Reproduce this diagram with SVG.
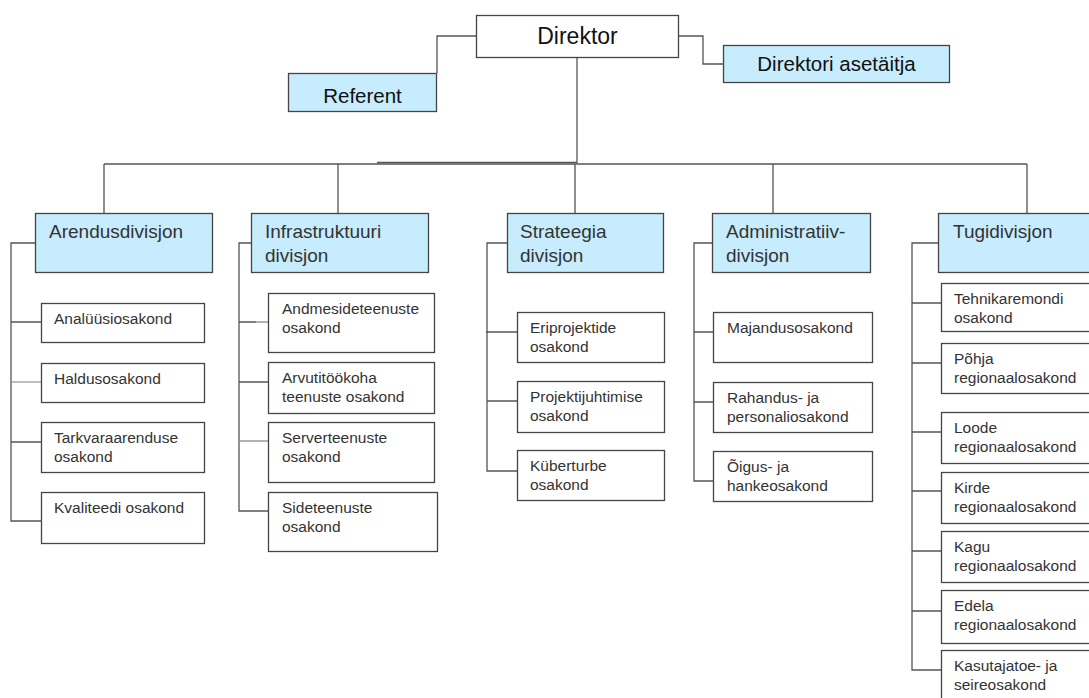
<svg xmlns="http://www.w3.org/2000/svg" width="1089" height="698" viewBox="0 0 1089 698">
<style>
.box{fill:#ffffff;stroke:#454545;stroke-width:1.3}
.blue{fill:#c6ecfd;stroke:#454545;stroke-width:1.3}
.ln{fill:none;stroke:#555555;stroke-width:1.3}
.lt{fill:none;stroke:#999999;stroke-width:1.3}
.t{font-family:"Liberation Sans",Arial,sans-serif;font-size:15.5px;fill:#333333}
.d{font-family:"Liberation Sans",Arial,sans-serif;font-size:19px;fill:#333333}
.h{font-family:"Liberation Sans",Arial,sans-serif;font-size:20.5px;fill:#111111;text-anchor:middle}
</style>
<rect width="1089" height="698" fill="#ffffff"/>
<g id="connectors">
<path class="ln" d="M476,36 H437 V73"/>
<path class="ln" d="M679,36 H703 V64 H723"/>
<path class="ln" d="M577,58 V163"/>
<path class="ln" d="M104,164 H1027" stroke="#777777"/>
<path class="ln" d="M377,162.5 H577" stroke-width="1.6"/>
<path class="ln" d="M104,164 V213 M338,164 V213 M575,164 V213 M773,164 V213 M1027,164 V213"/>
<path class="ln" d="M35,243 H11 V521 H41 M11,322 H41 M11,442 H41"/>
<path class="lt" d="M11,382 H41"/>
<path class="ln" d="M251,243 H239 V511 H268 M239,382 H268 M239,322 H256"/>
<path class="lt" d="M256,322 H268 M239,441 H268"/>
<path class="ln" d="M507,243 H487 V471 H517 M486,332 H517 M487,401 H517"/>
<path class="ln" d="M712,243 H694 V481 H713 M694,332 H713 M694,402 H713"/>
<path class="ln" d="M938,243 H912 V670 H941 M912,303 H941 M912,363 H941 M912,432 H941 M912,491 H941 M912,551 H941 M912,611 H941"/>
</g>
<g id="direktor"><rect class="box" x="476.5" y="15.5" width="202" height="42"/><text class="h" x="577.5" y="44" style="font-size:23px">Direktor</text></g>
<g id="referent"><rect class="blue" x="288.5" y="73.5" width="148" height="38"/><text class="h" x="362.5" y="103">Referent</text></g>
<g id="asetaitja"><rect class="blue" x="723.5" y="45.5" width="226" height="37"/><text class="h" x="836.5" y="71">Direktori asetäitja</text></g>

<g id="arendusdivisjon"><rect class="blue" x="35.5" y="213.5" width="177" height="59"/><text class="d" x="49" y="238">Arendusdivisjon</text></g>
<g id="infra"><rect class="blue" x="251.5" y="213.5" width="177" height="59"/><text class="d" x="265" y="238">Infrastruktuuri</text><text class="d" x="265" y="262">divisjon</text></g>
<g id="strateegia"><rect class="blue" x="507.5" y="213.5" width="156" height="59"/><text class="d" x="520" y="238">Strateegia</text><text class="d" x="520" y="262">divisjon</text></g>
<g id="admin"><rect class="blue" x="712.5" y="213.5" width="158" height="59"/><text class="d" x="726" y="238">Administratiiv-</text><text class="d" x="726" y="262">divisjon</text></g>
<g id="tugi"><rect class="blue" x="938.5" y="213.5" width="160" height="59"/><text class="d" x="953" y="238">Tugidivisjon</text></g>

<g id="a1"><rect class="box" x="41.5" y="303.5" width="163" height="39"/><text class="t" x="54" y="324">Analüüsiosakond</text></g>
<g id="a2"><rect class="box" x="41.5" y="363.5" width="163" height="39"/><text class="t" x="54" y="384">Haldusosakond</text></g>
<g id="a3"><rect class="box" x="41.5" y="422.5" width="163" height="50"/><text class="t" x="54" y="443">Tarkvaraarenduse</text><text class="t" x="54" y="462">osakond</text></g>
<g id="a4"><rect class="box" x="41.5" y="492.5" width="163" height="51"/><text class="t" x="54" y="513">Kvaliteedi osakond</text></g>

<g id="i1"><rect class="box" x="268.5" y="293.5" width="166" height="59"/><text class="t" x="282" y="314">Andmesideteenuste</text><text class="t" x="282" y="333">osakond</text></g>
<g id="i2"><rect class="box" x="268.5" y="362.5" width="166" height="51"/><text class="t" x="282" y="383">Arvutitöökoha</text><text class="t" x="282" y="402">teenuste osakond</text></g>
<g id="i3"><rect class="box" x="268.5" y="422.5" width="166" height="60"/><text class="t" x="282" y="443">Serverteenuste</text><text class="t" x="282" y="462">osakond</text></g>
<g id="i4"><rect class="box" x="268.5" y="492.5" width="169" height="59"/><text class="t" x="282" y="513">Sideteenuste</text><text class="t" x="282" y="532">osakond</text></g>

<g id="s1"><rect class="box" x="517.5" y="312.5" width="147" height="50"/><text class="t" x="530" y="333">Eriprojektide</text><text class="t" x="530" y="352">osakond</text></g>
<g id="s2"><rect class="box" x="517.5" y="381.5" width="147" height="51"/><text class="t" x="530" y="402">Projektijuhtimise</text><text class="t" x="530" y="421">osakond</text></g>
<g id="s3"><rect class="box" x="517.5" y="450.5" width="147" height="50"/><text class="t" x="530" y="471">Küberturbe</text><text class="t" x="530" y="490">osakond</text></g>

<g id="m1"><rect class="box" x="713.5" y="312.5" width="159" height="50"/><text class="t" x="727" y="333">Majandusosakond</text></g>
<g id="m2"><rect class="box" x="713.5" y="382.5" width="159" height="50"/><text class="t" x="727" y="403">Rahandus- ja</text><text class="t" x="727" y="422">personaliosakond</text></g>
<g id="m3"><rect class="box" x="713.5" y="451.5" width="159" height="50"/><text class="t" x="727" y="472">Õigus- ja</text><text class="t" x="727" y="491">hankeosakond</text></g>

<g id="t1"><rect class="box" x="941.5" y="283.5" width="160" height="48"/><text class="t" x="954" y="304">Tehnikaremondi</text><text class="t" x="954" y="323">osakond</text></g>
<g id="t2"><rect class="box" x="941.5" y="343.5" width="160" height="50"/><text class="t" x="954" y="364">Põhja</text><text class="t" x="954" y="383">regionaalosakond</text></g>
<g id="t3"><rect class="box" x="941.5" y="412.5" width="160" height="51"/><text class="t" x="954" y="433">Loode</text><text class="t" x="954" y="452">regionaalosakond</text></g>
<g id="t4"><rect class="box" x="941.5" y="472.5" width="160" height="51"/><text class="t" x="954" y="493">Kirde</text><text class="t" x="954" y="512">regionaalosakond</text></g>
<g id="t5"><rect class="box" x="941.5" y="531.5" width="160" height="51"/><text class="t" x="954" y="552">Kagu</text><text class="t" x="954" y="571">regionaalosakond</text></g>
<g id="t6"><rect class="box" x="941.5" y="590.5" width="160" height="53"/><text class="t" x="954" y="611">Edela</text><text class="t" x="954" y="630">regionaalosakond</text></g>
<g id="t7"><rect class="box" x="941.5" y="650.5" width="160" height="60"/><text class="t" x="954" y="671">Kasutajatoe- ja</text><text class="t" x="954" y="690">seireosakond</text></g>
</svg>
